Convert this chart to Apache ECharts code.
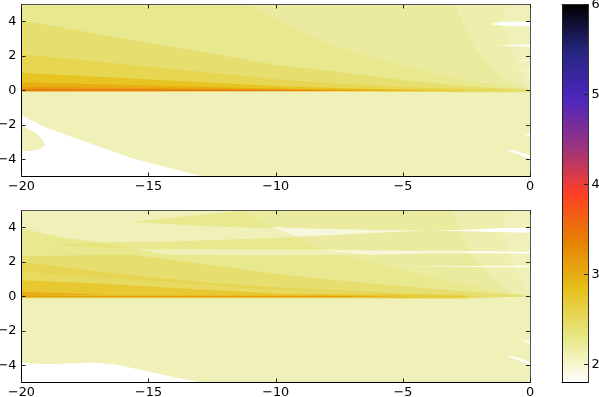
<!DOCTYPE html>
<html>
<head>
<meta charset="utf-8">
<style>html,body{margin:0;padding:0;background:#fff}#chart{width:599px;height:397px}</style>
<script src="https://cdn.jsdelivr.net/npm/echarts@6/dist/echarts.min.js"></script>
</head>
<body>
<div id="chart"></div>
<script>
// tick labels
const xTicks = [-20, -15, -10, -5, 0]
const yTicks = [-4, -2, 0, 2, 4]
const cbarTicks = [2, 3, 4, 5, 6]

// colour bar, CMRmap reversed
const cbarValues = [1.8, 2.325, 2.85, 3.375, 3.9, 4.425, 4.95, 5.475, 6]
const cbarColors = ['#ffffff', '#e6e680', '#e6bf1a', '#e68000', '#ff4026', '#993380', '#4d26bf', '#262680', '#000000']

// contour outlines of the upper panel, [x, y], lowest level first
const topBase = [[-20, 5], [0, 5], [0, -5], [-12.9, -5], [-14.3, -4.46], [-15.6, -3.97], [-16.9, -3.29], [-18.2, -2.6], [-19.15, -2.08], [-20, -1.44]]
const topBlob = [[-20, -2.04], [-19.4, -2.5], [-19.15, -2.9], [-19.08, -3.19], [-19.28, -3.42], [-19.67, -3.52], [-20, -3.52]]
const topLevel1 = [[-20, 5], [-0.92, 5], [-1.05, 4.1], [-0.79, 2.74], [-0.39, 1.19], [0, 0.05], [-20, -0.02]]
const topLevel2 = [[-20, 5], [-2.95, 5], [-2.62, 3.91], [-2.1, 2.35], [-1.57, 1.38], [-0.79, 0.51], [0, 0.05], [-20, -0.02]]
const topLevel3 = [[-20, 5], [-11.08, 5], [-9.83, 4], [-8.91, 3.33], [-7.6, 2.55], [-6.29, 1.96], [-4.98, 1.46], [-3.67, 0.95], [-2.36, 0.56], [-1.05, 0.25], [0, 0.05], [-20, -0.02]]
const topLevel4 = [[-20, 4.07], [-15, 2.78], [-9.83, 1.46], [-7.6, 1.09], [-4.98, 0.6], [-2.36, 0.25], [-1.05, 0.12], [0, 0.06], [0, -0.1], [-3, -0.1], [-6, -0.04], [-20, -0.04]]
const topLevel5 = [[-20, 2.12], [-9.83, 0.64], [-7.6, 0.41], [-4.98, 0.21], [-2.36, 0.1], [0, 0.03], [-2.36, -0.06], [-7, -0.04], [-20, -0.04]]
const topLevel6 = [[-20, 1.03], [-9.83, 0.25], [-7.6, 0.14], [-4.98, 0.06], [-2.36, 0.02], [-4.98, -0.04], [-20, -0.04]]
const topLevel7 = [[-20, 0.48], [-9.83, 0.1], [-6.3, 0.05], [-4, 0], [-6.3, -0.03], [-20, -0.04]]
const topLevel8 = [[-20, 0.22], [-9.83, 0.06], [-6, 0], [-9.83, -0.03], [-20, -0.04]]
const topLevel9 = [[-20, 0.07], [-10, 0.05], [-7.5, 0.01], [-10, -0.02], [-20, -0.02]]
const topGaps = [
  [[-1.57, 3.87], [-1.05, 3.99], [0, 4.03], [0, 3.74], [-1.05, 3.75]],
  [[-1.41, 2.65], [0, 2.68], [0, 2.55]],
  [[-0.68, 1.75], [0, 1.78], [0, 1.72]],
  [[-0.39, 1.17], [0, 1.19], [0, 1.13]],
  [[-0.26, 0.76], [0, 0.78], [0, 0.72]],
  [[-0.26, -2.57], [0, -2.5], [0, -2.65]],
  [[-0.94, -3.44], [-0.66, -3.48], [0, -3.77], [0, -4], [-0.39, -3.75]]
]

// contour outlines of the lower panel
const lowBase = [[-20, 5], [0, 5], [0, -5], [-12.85, -5], [-13.9, -4.72], [-14.95, -4.39], [-16.26, -3.96], [-17.18, -3.84], [-18.23, -3.9], [-19.15, -3.94], [-20, -3.84]]
const lowLevel1 = [[-11.27, 5], [-0.92, 5], [-1.05, 3.68], [-0.79, 2.3], [-0.39, 1], [0, 0], [-9.17, 0], [-9.17, 3.47], [-10.2, 4.05]]
const lowLevel2 = [[-11.27, 5], [-3.08, 5], [-2.69, 3.67], [-2.1, 2.12], [-1.57, 1.15], [-0.79, 0.27], [0, 0], [-9.17, 0], [-9.17, 3.47], [-10.2, 4.05]]
const lowLens1 = [[-15.7, 4.35], [-13, 4.74], [-11.27, 5], [-10.22, 4.06], [-9.83, 3.96], [-13, 4.1]]
const lowLevel3 = [[-20, 3.96], [-18.23, 3.38], [-16.9, 3.15], [-14.3, 3.18], [-9.8, 3.42], [-9.17, 3.47], [-8.26, 2.74], [-6.29, 2.02], [-3.67, 1.05], [-0.79, 0.17], [0, 0], [-20, -0.05]]
const lowLens2 = [[-18.88, 2.99], [-16.9, 3.13], [-15.7, 2.8], [-16.9, 2.85]]
const lowSliver = [[-15.47, 2.74], [-8.26, 2.72], [-5, 2.66], [-5, 2.5], [-8.26, 2.41], [-14.16, 2.41]]
const lowLevel4 = [[-20, 2.35], [-15.6, 2.43], [-12.98, 1.92], [-9.83, 1.3], [-7.6, 0.95], [-4.98, 0.6], [-2.36, 0.27], [-0.79, 0.12], [0, 0.02], [-3, -0.14], [-8, -0.1], [-20, -0.1]]
const lowLevel5 = [[-20, 2.02], [-16.9, 1.44], [-13, 0.85], [-9.83, 0.52], [-7.6, 0.37], [-4.98, 0.17], [-2.5, 0.1], [-2.5, -0.08], [-20, -0.08]]
const lowLevel5b = [[-20, 1.44], [-15.6, 0.99], [-9.83, 0.37], [-6, 0.2], [-6, -0.06], [-20, -0.06]]
const lowLevel6 = [[-20, 0.95], [-16.9, 0.76], [-13, 0.41], [-9.83, 0.17], [-4.98, 0.1], [-1.83, 0], [-4.98, -0.08], [-20, -0.06]]
const lowLevel7 = [[-20, 0.28], [-16.65, 0.12], [-20, 0.02]]
const lowLevel8 = [[-20, 0.04], [-8, 0.04], [-5, 0.01], [-8, -0.04], [-20, -0.04]]
const lowSoftGaps = [
  [[-10.2, 4.04], [-8.6, 3.95], [-6, 3.87], [-4.1, 3.84], [-6, 3.7], [-9.17, 3.47]],
  [[-8.19, 2.7], [-6.29, 2.66], [-3.67, 2.66], [-1, 2.62], [-1, 2.52], [-3.67, 2.52], [-6.29, 2.43]]
]
const lowGaps = [
  [[-3.8, 3.82], [-2.3, 3.9], [-1, 3.98], [0, 4], [0, 3.7], [-1, 3.73], [-2.3, 3.8]],
  [[-2.5, 2.62], [0, 2.6], [0, 2.5], [-2.5, 2.54]],
  [[-5.24, 1.75], [0, 1.79], [0, 1.71]],
  [[-0.26, -2.54], [0, -2.6], [0, -2.73], [-0.26, -2.62]],
  [[-0.94, -3.44], [-0.66, -3.48], [0, -3.81], [0, -4], [-0.39, -3.75]]
]

const pale = '#f0f0b9'
const gap = '#ffffff'
const softGap = '#f7f7dc'
const fontFamily = '"DejaVu Sans"'
const fontSize = 12.8

const topLayers = [
  [topBase, pale], [topBlob, pale], [topLevel1, '#eeeeae'], [topLevel2, '#ebeba0'], [topLevel3, '#e8e88e'],
  [topLevel4, '#e6df70'], [topLevel5, '#e6d652'], [topLevel6, '#e8c422'], [topLevel7, '#e8ae10'],
  [topLevel8, '#e89c08'], [topLevel9, '#e8701e']
].concat(topGaps.map(g => [g, gap]))

const lowLayers = [
  [lowBase, pale], [lowLevel1, '#eeeeae'], [lowLevel2, '#ebeba0'], [lowLens1, '#e8e88e'], [lowLevel3, '#e8e88e'],
  [lowLens2, '#e6e27c'], [lowSliver, '#f0f0b9'], [lowLevel4, '#e6df70'], [lowLevel5, '#e6d452'],
  [lowLevel5b, '#e6da60'], [lowLevel6, '#e8c830'], [lowLevel7, '#e8ae18'], [lowLevel8, '#e8a010']
].concat(lowSoftGaps.map(g => [g, softGap]), lowGaps.map(g => [g, gap]))

function axis(gridIndex, position, min, max, ticks, labels, color, margin) {
  const minus = v => String(v).replace('-', '\u2212')
  return {
    type: 'value', gridIndex, position, min, max, z: 10,
    splitLine: { show: false },
    axisLine: { show: true, onZero: false, lineStyle: { color, width: 1 } },
    axisTick: { show: ticks.length > 0, inside: true, length: 4, customValues: ticks, lineStyle: { color: '#222', width: 1 } },
    axisLabel: {
      show: labels, customValues: ticks, formatter: minus, margin, hideOverlap: false,
      showMinLabel: true, showMaxLabel: true,
      color: '#000', fontFamily, fontSize
    }
  }
}

function polygonSeries(layer, xAxisIndex, yAxisIndex) {
  return {
    type: 'custom', xAxisIndex, yAxisIndex, clip: true, silent: true, animation: false,
    data: [0],
    renderItem(params, api) {
      return {
        type: 'polygon',
        shape: { points: layer[0].map(p => api.coord(p)) },
        style: { fill: layer[1] }
      }
    }
  }
}

const chart = echarts.init(document.getElementById('chart'), null, { renderer: 'canvas' })
chart.setOption({
  animation: false,
  backgroundColor: '#fff',
  grid: [
    { left: 21.5, top: 4.5, width: 508.5, height: 172, outerBoundsMode: 'none' },
    { left: 21.5, top: 210.5, width: 508.5, height: 172, outerBoundsMode: 'none' },
    { left: 562, top: 4.5, width: 26, height: 378, outerBoundsMode: 'none' }
  ],
  xAxis: [
    axis(0, 'bottom', -20, 0, xTicks, true, '#000', 4),
    axis(0, 'top', -20, 0, xTicks, false, '#555', 4),
    axis(1, 'bottom', -20, 0, xTicks, true, '#000', 4),
    axis(1, 'top', -20, 0, xTicks, false, '#555', 4),
    axis(2, 'bottom', 0, 1, [], false, '#000', 4),
    axis(2, 'top', 0, 1, [], false, '#333', 4)
  ],
  yAxis: [
    axis(0, 'left', -5, 5, yTicks, true, '#000', 5),
    axis(0, 'right', -5, 5, yTicks, false, '#555', 5),
    axis(1, 'left', -5, 5, yTicks, true, '#000', 5),
    axis(1, 'right', -5, 5, yTicks, false, '#555', 5),
    axis(2, 'left', 1.8, 6, [], false, '#222', 4),
    axis(2, 'right', 1.8, 6, cbarTicks, true, '#333', 3.5)
  ],
  series: [
    ...topLayers.map(l => polygonSeries(l, 0, 0)),
    ...lowLayers.map(l => polygonSeries(l, 2, 2)),
    {
      type: 'custom', xAxisIndex: 4, yAxisIndex: 4, silent: true, animation: false,
      data: [[0, cbarValues[0], 1, cbarValues[cbarValues.length - 1]]],
      renderItem(params, api) {
        const a = api.coord([api.value(0), api.value(1)])
        const b = api.coord([api.value(2), api.value(3)])
        const span = cbarValues[cbarValues.length - 1] - cbarValues[0]
        return {
          type: 'rect',
          shape: { x: a[0], y: b[1], width: b[0] - a[0], height: a[1] - b[1] },
          style: {
            fill: new echarts.graphic.LinearGradient(0, 1, 0, 0, cbarValues.map((v, i) => ({
              offset: (v - cbarValues[0]) / span, color: cbarColors[i]
            })))
          }
        }
      }
    }
  ]
})
</script>
</body>
</html>
